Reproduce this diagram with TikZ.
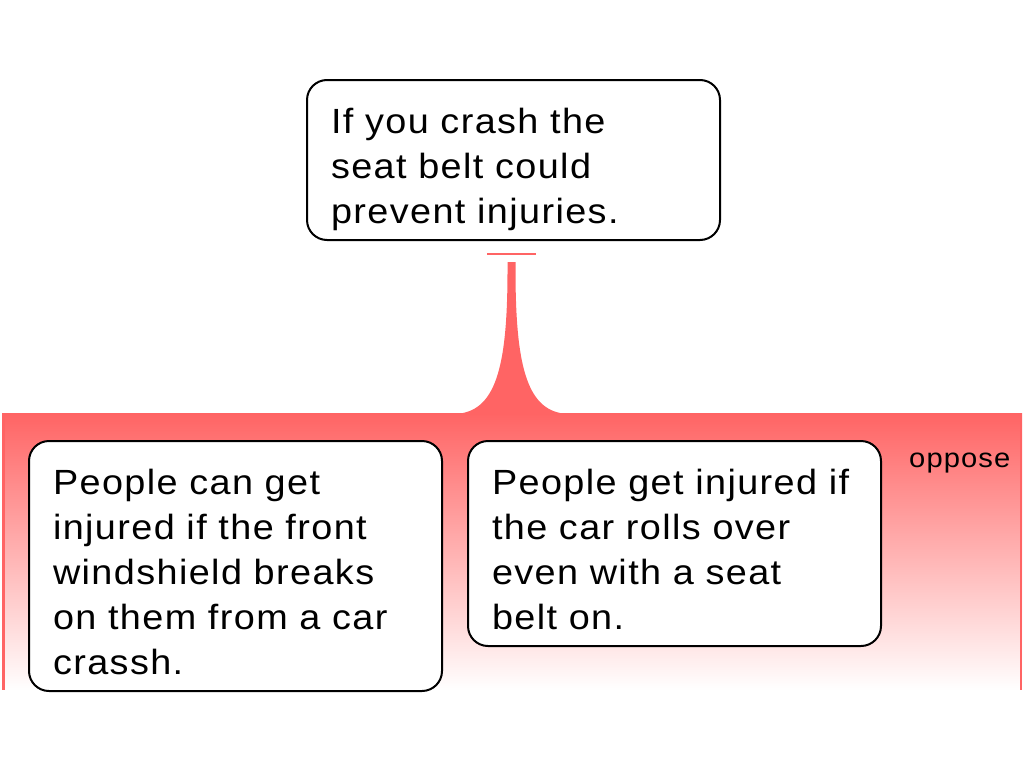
\documentclass[tikz,border=0pt]{standalone}
\usepackage{fontspec}
\setmainfont{Liberation Sans}[LetterSpace=4, FakeStretch=1.08]
\definecolor{opposered}{RGB}{255,100,100}
\usetikzlibrary{positioning}
\tikzset{
  claim/.style={draw, line width=2pt, rounded corners=20pt, fill=white,
    text width=365pt, inner xsep=24pt, inner ysep=0pt, align=left,
    anchor=north west, font=\fontsize{35}{45}\selectfont},
  group/.style={anchor=north west, inner sep=0pt, minimum width=1020pt,
    minimum height=277pt, top color=opposered, bottom color=white},
}
\newcommand{\claimtext}[1]{\rule{0pt}{53pt}#1\rule[-17pt]{0pt}{17pt}}

\begin{document}
\begin{tikzpicture}[x=1pt, y=-1pt]
  \useasboundingbox (0,0) rectangle (1024,768);

  % group of objections
  \node [group] (oppose) at (2,413) {};
  \draw [opposered, line width=2.5pt] (oppose.north west) ++(1.25pt,0) -- ++(0,-277pt);
  \draw [opposered, line width=2.5pt] (oppose.north east) ++(-1.25pt,0) -- ++(0,-277pt);
  \node [anchor=base west, inner sep=0pt, font=\fontsize{27}{30}\selectfont] (opplabel) at (909,467) {oppose};

  % link from the claim
  \coordinate (stemtop) at (511.5,262);
  \fill [opposered] (507.5,262) -- (507.5,270) .. controls (507.5,370) and (495,412) .. (455,414)
    -- (568,414) .. controls (528,412) and (515.5,370) .. (515.5,270) -- (515.5,262) -- cycle;
  \draw [opposered, line width=2pt] (487,254) -- (536,254);

  \node [claim] (claim) at (306,79) {\claimtext{If you crash the\\ seat belt could\\ prevent injuries.}};
  \begin{scope}[node distance=24pt]
    \node [claim] (windshield) at (28,440) {\claimtext{People can get\\ injured if the front\\ windshield breaks\\ on them from a car\\ crassh.}};
    \node [claim, right=of windshield.north east, anchor=north west] (rollover) {\claimtext{People get injured if\\ the car rolls over\\ even with a seat\\ belt on.}};
  \end{scope}
\end{tikzpicture}
\end{document}
